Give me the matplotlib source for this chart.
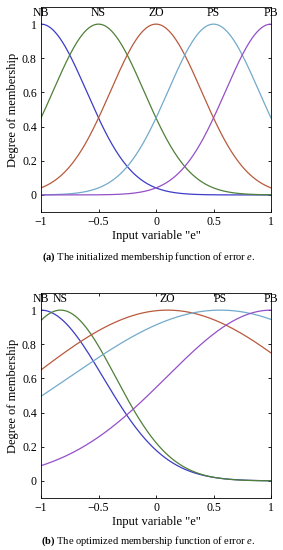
import numpy as np
import matplotlib
matplotlib.use("Agg")
import matplotlib.pyplot as plt

plt.rcParams["font.family"] = ["Liberation Serif", "DejaVu Serif"]
plt.rcParams["mathtext.fontset"] = "custom"
plt.rcParams["mathtext.rm"] = "Liberation Serif"
plt.rcParams["mathtext.it"] = "Liberation Serif:italic"
plt.rcParams["mathtext.bf"] = "Liberation Serif:bold"

# membership function names and gaussian parameters
mf_names = ["NB", "NS", "ZO", "PS", "PB"]
init_centers = [-1.0, -0.5, 0.0, 0.5, 1.0]
init_sigmas = [0.396, 0.396, 0.396, 0.396, 0.396]
opt_centers = [-1.0, -0.83, 0.10, 0.56, 1.0]
opt_sigmas = [0.54, 0.48, 1.185, 1.316, 0.91]

mf_colors = ["#3c3cc8", "#4f8038", "#b85a3c", "#72aacb", "#9450c8"]

x_ticks = [-1, -0.5, 0, 0.5, 1]
x_ticklabels = ["\u22121", "\u22120.5", "0", "0.5", "1"]
y_ticks = [0, 0.2, 0.4, 0.6, 0.8, 1]
y_ticklabels = ["0", "0.2", "0.4", "0.6", "0.8", "1"]

captions = [
    r"$\bf{(a)}$ The initialized membership function of error $\it{e}$.",
    r"$\bf{(b)}$ The optimized membership function of error $\it{e}$.",
]


def gaussmf(x, c, s):
    return np.exp(-((x - c) ** 2) / (2 * s ** 2))


def draw_panel(ax, centers, sigmas):
    x = np.linspace(-1, 1, 401)
    for name, c, s, col in zip(mf_names, centers, sigmas, mf_colors):
        ax.plot(x, gaussmf(x, c, s), color=col, lw=0.9)
        ax.text(c, 1.065, name, ha="center", va="center", fontsize=8.5)
    ax.set_xlim(-1, 1)
    ax.set_ylim(-0.1, 1.1)
    ax.set_xticks(x_ticks)
    ax.set_xticklabels(x_ticklabels)
    ax.set_yticks(y_ticks)
    ax.set_yticklabels(y_ticklabels)
    ax.tick_params(direction="in", top=True, right=True, labelsize=8.5,
                   length=2.5, width=0.6, pad=3)
    for sp in ax.spines.values():
        sp.set_linewidth(0.6)
    ax.set_xlabel('Input variable "e"', fontsize=9, labelpad=1)
    ax.set_ylabel("Degree of membership", fontsize=9, labelpad=2)


fig = plt.figure(figsize=(2.83, 5.5), dpi=100)
ax1 = fig.add_axes([0.1449, 0.6145, 0.8127, 0.3727])
ax2 = fig.add_axes([0.1449, 0.0945, 0.8127, 0.3727])

draw_panel(ax1, init_centers, init_sigmas)
draw_panel(ax2, opt_centers, opt_sigmas)

fig.text(0.525, 1 - 257 / 550, captions[0], ha="center", va="center", fontsize=7.6)
fig.text(0.525, 1 - 541 / 550, captions[1], ha="center", va="center", fontsize=7.6)

fig.savefig("out.png", dpi=100)
